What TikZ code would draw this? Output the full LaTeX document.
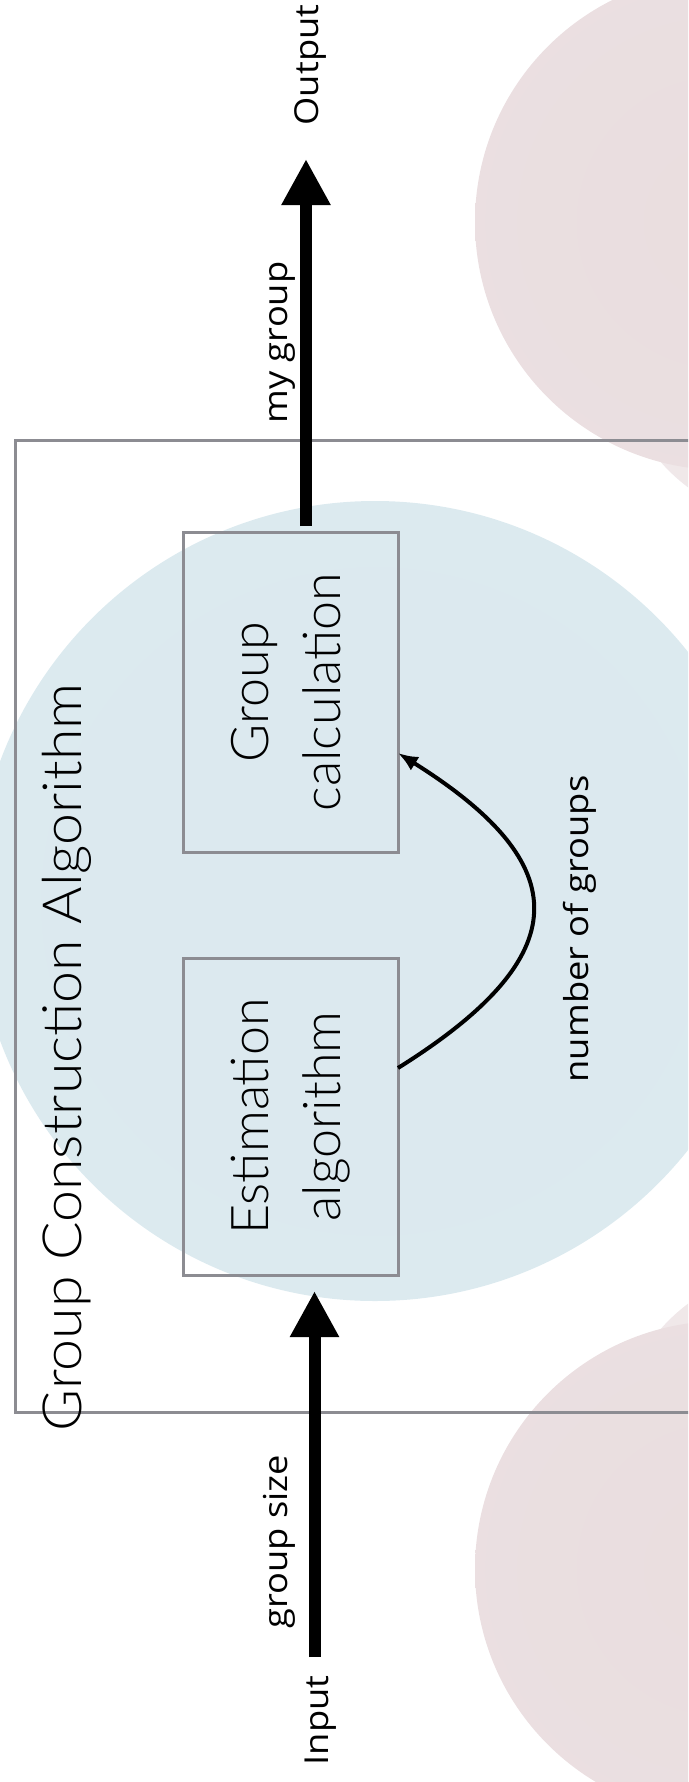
\documentclass[tikz,border=0pt]{standalone}
\usepackage{fontspec}
\usepackage{graphicx}
\usetikzlibrary{arrows.meta}
\newfontfamily\boxfont{Lato Light}
\newfontfamily\labfont{Open Sans}
\definecolor{boxline}{RGB}{140,140,146}
\pgfdeclareradialshading{blueblob}{\pgfpoint{0bp}{0bp}}{rgb(0bp)=(0.862,0.914,0.937); rgb(37bp)=(0.866,0.917,0.940); rgb(42bp)=(0.890,0.934,0.952); rgb(46bp)=(0.935,0.962,0.972); rgb(50bp)=(1,1,1)}
\pgfdeclareradialshading{pinkblob}{\pgfpoint{0bp}{0bp}}{rgb(0bp)=(0.915,0.868,0.874); rgb(26bp)=(0.920,0.876,0.882); rgb(36bp)=(0.932,0.894,0.899); rgb(42bp)=(0.950,0.922,0.926); rgb(47bp)=(0.978,0.965,0.967); rgb(50bp)=(1,1,1)}
\pgfdeclareradialshading{pinkfaint}{\pgfpoint{0bp}{0bp}}{rgb(0bp)=(0.935,0.900,0.905); rgb(20bp)=(0.945,0.915,0.920); rgb(36bp)=(0.972,0.958,0.960); rgb(50bp)=(1,1,1)}
\begin{document}
\begin{tikzpicture}[x=1pt,y=-1pt,
  boxst/.style={draw=boxline, line width=3pt, minimum width=215pt, inner sep=0pt, outer sep=0pt,
    font=\boxfont\fontsize{52}{72}\selectfont},
  bigarrow/.style={line width=12pt, -{Triangle[length=46pt,width=46pt]}},
  curvearrow/.style={line width=4pt, -{Latex[length=20pt,width=16pt]}},
  lab/.style={rotate=90, anchor=base, inner sep=0pt, font=\labfont\fontsize{33}{40}\selectfont},
  ttl/.style={rotate=90, anchor=base, inner sep=0pt, font=\boxfont\fontsize{54}{60}\selectfont}]
\useasboundingbox (0,0) rectangle (688,1782);
\clip (0,0) rectangle (688,1782);
% background blobs
\shade[shading=pinkfaint, rotate around={-35:(720,455)}] (720,455) ellipse (95 and 45);
\shade[shading=pinkfaint, rotate around={35:(720,1336)}] (720,1336) ellipse (95 and 45);
\shade[shading=pinkblob] (723,222) circle (248);
\shade[shading=pinkblob] (723,1569) circle (248);
\shade[shading=blueblob] (375,901) circle (400);
% outer frame
\node[draw=boxline, line width=3pt, anchor=north west, minimum width=720pt, minimum height=972pt,
  inner sep=0pt, outer sep=0pt] (gca) at (15,440) {};
\node[ttl] (title) at (81,1057.5) {\scalebox{1.06}[1]{Group Construction Algorithm}};
% inner boxes
\node[boxst, minimum height=320pt] (grp) at (290.5,692)
  {\rotatebox{90}{\begin{tabular}{@{}c@{}}Group\\calculation\end{tabular}}};
\node[boxst, minimum height=317pt] (est) at (290.5,1116.5)
  {\rotatebox{90}{\begin{tabular}{@{}c@{}}Estimation\\algorithm\end{tabular}}};
% labels
\node[lab] (out) at (318,65) {\scalebox{1.1}[1]{Output}};
\node[lab] (mygrp) at (287,342.5) {\scalebox{1.1}[1]{my group}};
\node[lab] (gsize) at (287,1541.5) {\scalebox{1.1}[1]{group size}};
\node[lab] (inp) at (328,1720.5) {\scalebox{1.1}[1]{Input}};
\node[lab] (nog) at (588,929) {\scalebox{1.1}[1]{number of groups}};
% connectors
\coordinate (outS) at (306,526);
\coordinate (outT) at (306,159);
\coordinate (inS) at (314.5,1657);
\coordinate (inT) at (314.5,1291);
\draw[bigarrow] (outS) -- (outT);
\draw[bigarrow] (inS) -- (inT);
\draw[curvearrow] ([yshift=48.5pt]est.east) .. controls +(179,-112) and +(179,112) .. ([yshift=-61pt]grp.east);
\end{tikzpicture}
\end{document}
